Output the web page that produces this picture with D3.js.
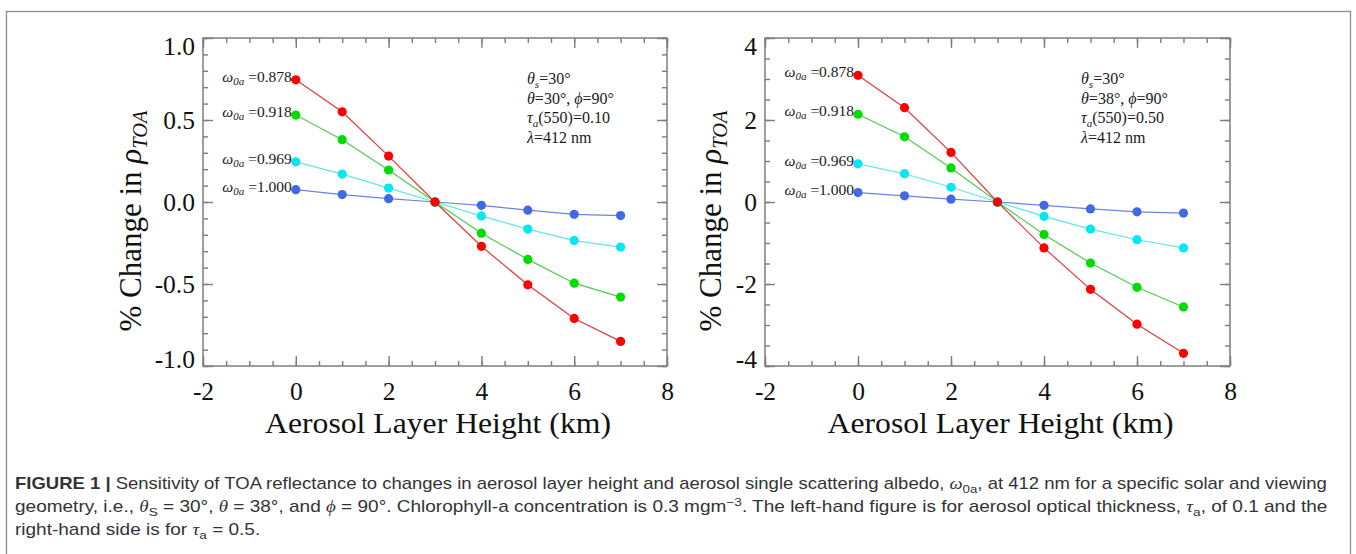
<!DOCTYPE html>
<html>
<head>
<meta charset="utf-8">
<script src="https://cdn.jsdelivr.net/npm/d3@7"></script>
<style>
  html, body { margin: 0; padding: 0; background: #fff; }
  svg { display: block; }
</style>
</head>
<body>
<svg id="fig" width="1356" height="554"></svg>
<script>
// Aerosol layer height (km) at which each point was computed
const heights = [0, 1, 2, 3, 4, 5, 6, 7];
// Single scattering albedo of each curve
const albedoLabels = ["0.878", "0.918", "0.969", "1.000"];

// % change in TOA reflectance, tau_a(550) = 0.10
const thin878  = [0.745, 0.55, 0.28, 0, -0.27, -0.505, -0.71, -0.85];
const thin918  = [0.53, 0.38, 0.195, 0, -0.19, -0.35, -0.495, -0.58];
const thin969  = [0.245, 0.17, 0.085, 0, -0.085, -0.165, -0.235, -0.275];
const thin1000 = [0.075, 0.045, 0.02, 0, -0.02, -0.05, -0.075, -0.083];

// % change in TOA reflectance, tau_a(550) = 0.50
const thick878  = [3.09, 2.30, 1.21, 0, -1.12, -2.13, -2.98, -3.69];
const thick918  = [2.14, 1.59, 0.83, 0, -0.79, -1.49, -2.08, -2.56];
const thick969  = [0.93, 0.69, 0.36, 0, -0.35, -0.66, -0.92, -1.12];
const thick1000 = [0.23, 0.15, 0.07, 0, -0.08, -0.17, -0.24, -0.27];

// Axis ticks
const xTicks = [-2, 0, 2, 4, 6, 8];
const thinYTicks = [-1.0, -0.5, 0.0, 0.5, 1.0];
const thickYTicks = [-4, -2, 0, 2, 4];

const dotColors  = ["#ff0000", "#00dc00", "#00e8f0", "#4169e1"];
const lineColors = ["#e03a3a", "#4ccf4c", "#5ee6ea", "#6a86dc"];
const axisGray = "#7d7d7d";
const SERIF = "'Liberation Serif', 'Times New Roman', serif";
const SANS = "'Liberation Sans', Arial, sans-serif";

const svg = d3.select("#fig");

// Write a sequence of styled runs into a text element; shift > 0 lowers (subscript)
function richText(sel, runs) {
  let cur = 0;
  runs.forEach(r => {
    const ts = sel.append("tspan").text(r.t);
    if (r.italic) ts.attr("font-style", "italic");
    if (r.bold) ts.attr("font-weight", "bold");
    if (r.family) ts.attr("font-family", r.family);
    if (r.size) ts.attr("font-size", r.size);
    const target = r.shift || 0;
    if (target !== cur) ts.attr("dy", target - cur);
    cur = target;
  });
  return sel;
}

// Outer figure frame
svg.append("rect")
  .attr("x", 6.5).attr("y", 11.5)
  .attr("width", 1344).attr("height", 600)
  .attr("fill", "none").attr("stroke", "#8c8c8c").attr("stroke-width", 1.3);

const panels = [
  {
    box: { x0: 203, x1: 667, y0: 38, y1: 366 },
    yDomain: [-1, 1], yTicks: thinYTicks, yMinorStep: 0.1,
    yFormat: d => d.toFixed(1),
    series: [thin878, thin918, thin969, thin1000],
    tau: "0.10", theta: "30",
    titleGap: 62, annDx: 324
  },
  {
    box: { x0: 765, x1: 1230, y0: 38, y1: 366 },
    yDomain: [-4, 4], yTicks: thickYTicks, yMinorStep: 0.5,
    yFormat: d => String(d),
    series: [thick878, thick918, thick969, thick1000],
    tau: "0.50", theta: "38",
    titleGap: 44, annDx: 316
  }
];

function range(a, b, step) {
  const out = [];
  const n = Math.round((b - a) / step);
  for (let i = 0; i <= n; i++) out.push(+(a + i * step).toFixed(6));
  return out;
}

panels.forEach(p => {
  const { x0, x1, y0, y1 } = p.box;
  const x = d3.scaleLinear().domain([-2, 8]).range([x0, x1]);
  const y = d3.scaleLinear().domain(p.yDomain).range([y1, y0]);
  const g = svg.append("g");

  const xMinor = range(-2, 8, 0.5);
  const yMinor = range(p.yDomain[0], p.yDomain[1], p.yMinorStep);

  function styleAxis(sel) {
    sel.select(".domain").remove();
    sel.selectAll(".tick line").attr("stroke", axisGray).attr("stroke-width", 1.4);
    sel.selectAll(".tick text")
      .attr("fill", "#111")
      .attr("font-family", SERIF)
      .attr("font-size", 25.5);
  }

  // minor ticks on all four sides
  g.append("g").attr("transform", `translate(${x0},0)`)
    .call(d3.axisLeft(y).tickValues(yMinor).tickSize(-5).tickFormat("")).call(styleAxis);
  g.append("g").attr("transform", `translate(${x1},0)`)
    .call(d3.axisRight(y).tickValues(yMinor).tickSize(-5).tickFormat("")).call(styleAxis);
  g.append("g").attr("transform", `translate(0,${y0})`)
    .call(d3.axisTop(x).tickValues(xMinor).tickSize(-5).tickFormat("")).call(styleAxis);
  g.append("g").attr("transform", `translate(0,${y1})`)
    .call(d3.axisBottom(x).tickValues(xMinor).tickSize(-5).tickFormat("")).call(styleAxis);

  // major ticks; labels on left and bottom
  const leftAx = g.append("g").attr("transform", `translate(${x0},0)`)
    .call(d3.axisLeft(y).tickValues(p.yTicks).tickSize(-10).tickPadding(8).tickFormat(p.yFormat))
    .call(styleAxis);
  g.append("g").attr("transform", `translate(${x1},0)`)
    .call(d3.axisRight(y).tickValues(p.yTicks).tickSize(-10).tickFormat("")).call(styleAxis);
  g.append("g").attr("transform", `translate(0,${y0})`)
    .call(d3.axisTop(x).tickValues(xTicks).tickSize(-10).tickFormat("")).call(styleAxis);
  g.append("g").attr("transform", `translate(0,${y1})`)
    .call(d3.axisBottom(x).tickValues(xTicks).tickSize(-10).tickPadding(16).tickFormat(d => String(d)))
    .call(styleAxis);

  // keep the end labels of the value axis inside the box height
  leftAx.selectAll(".tick text")
    .filter(d => d === p.yDomain[1]).attr("dy", "0.66em");
  leftAx.selectAll(".tick text")
    .filter(d => d === p.yDomain[0]).attr("dy", "0.05em");

  // plot box
  g.append("rect")
    .attr("x", x0).attr("y", y0).attr("width", x1 - x0).attr("height", y1 - y0)
    .attr("fill", "none").attr("stroke", axisGray).attr("stroke-width", 1.5);

  // curves, drawn from the lowest-absorption one up so red sits on top
  const line = d3.line().x((d, i) => x(heights[i])).y(d => y(d));
  [3, 2, 1, 0].forEach(k => {
    const vals = p.series[k];
    g.append("path").datum(vals)
      .attr("d", line)
      .attr("fill", "none")
      .attr("stroke", lineColors[k])
      .attr("stroke-width", 1.2);
  });
  [3, 2, 1, 0].forEach(k => {
    const vals = p.series[k];
    g.selectAll(null).data(vals).enter().append("circle")
      .attr("cx", (d, i) => x(heights[i]))
      .attr("cy", d => y(d))
      .attr("r", 4.6)
      .attr("fill", dotColors[k]);
  });

  // curve labels next to the first point
  p.series.forEach((vals, k) => {
    const t = g.append("text")
      .attr("x", x(heights[0]) - 4)
      .attr("y", y(vals[0]) + 2)
      .attr("text-anchor", "end")
      .attr("font-family", SERIF)
      .attr("font-size", 15.5)
      .attr("fill", "#1a1a1a");
    richText(t, [
      { t: "ω", italic: true },
      { t: "0a", italic: true, size: 11, shift: 3 },
      { t: " =" + albedoLabels[k], shift: 0 }
    ]);
  });

  // geometry annotation
  const ax = x0 + p.annDx;
  const ann = [
    [{ t: "θ", italic: true }, { t: "s", italic: true, size: 11, shift: 4 }, { t: "=30°", shift: 0 }],
    [{ t: "θ", italic: true }, { t: "=" + p.theta + "°, " }, { t: "ϕ", italic: true }, { t: "=90°" }],
    [{ t: "τ", italic: true }, { t: "a", italic: true, size: 11, shift: 4 }, { t: "(550)=" + p.tau, shift: 0 }],
    [{ t: "λ", italic: true }, { t: "=412 nm" }]
  ];
  ann.forEach((runs, i) => {
    const t = g.append("text")
      .attr("x", ax).attr("y", y0 + 46 + i * 19.5)
      .attr("font-family", SERIF).attr("font-size", 16).attr("fill", "#1a1a1a");
    richText(t, runs);
  });

  // y axis title
  const yt = g.append("text")
    .attr("transform", `translate(${x0 - p.titleGap},221) rotate(-90)`)
    .attr("text-anchor", "middle")
    .attr("font-family", SERIF).attr("font-size", 31).attr("fill", "#111");
  richText(yt, [
    { t: "% Change in " },
    { t: "ρ", italic: true },
    { t: "TOA", italic: true, size: 20.5, shift: 6 }
  ]);

  // x axis title
  const xt = g.append("text")
    .attr("font-family", SERIF).attr("font-size", 30).attr("fill", "#111")
    .attr("text-anchor", "middle")
    .text("Aerosol Layer Height (km)");
  const w = xt.node().getComputedTextLength();
  const cx = (x0 + x1) / 2 + 3;
  xt.attr("transform", `translate(${cx},433) scale(${346 / w},1)`);
});

// Caption
const capRuns = [
  [
    { t: "FIGURE 1 | ", bold: true },
    { t: "Sensitivity of TOA reflectance to changes in aerosol layer height and aerosol single scattering albedo, " },
    { t: "ω", italic: true, family: SERIF },
    { t: "0a", size: 11.5, shift: 3.5 },
    { t: ", at 412 nm for a specific solar and viewing", shift: 0 }
  ],
  [
    { t: "geometry, i.e., " },
    { t: "θ", italic: true, family: SERIF },
    { t: "S", size: 11.5, shift: 3.5 },
    { t: " = 30°, ", shift: 0 },
    { t: "θ", italic: true, family: SERIF },
    { t: " = 38°, and " },
    { t: "ϕ", italic: true, family: SERIF },
    { t: " = 90°. Chlorophyll-a concentration is 0.3 mgm" },
    { t: "−3", size: 11.5, shift: -6 },
    { t: ". The left-hand figure is for aerosol optical thickness, ", shift: 0 },
    { t: "τ", italic: true, family: SERIF },
    { t: "a", size: 11.5, shift: 3.5 },
    { t: ", of 0.1 and the", shift: 0 }
  ],
  [
    { t: "right-hand side is for " },
    { t: "τ", italic: true, family: SERIF },
    { t: "a", size: 11.5, shift: 3.5 },
    { t: " = 0.5.", shift: 0 }
  ]
];
const capBase = [489, 512, 535];
const capLeft = 15;
const capRight = 1328;
let capScale = 1;
capRuns.forEach((runs, i) => {
  const t = svg.append("text")
    .attr("font-family", SANS).attr("font-size", 16).attr("fill", "#333");
  richText(t, runs);
  const w = t.node().getComputedTextLength();
  if (i < 2) capScale = (capRight - capLeft) / w;
  t.attr("transform", `translate(${capLeft},${capBase[i]}) scale(${capScale},1)`);
});
</script>
</body>
</html>
